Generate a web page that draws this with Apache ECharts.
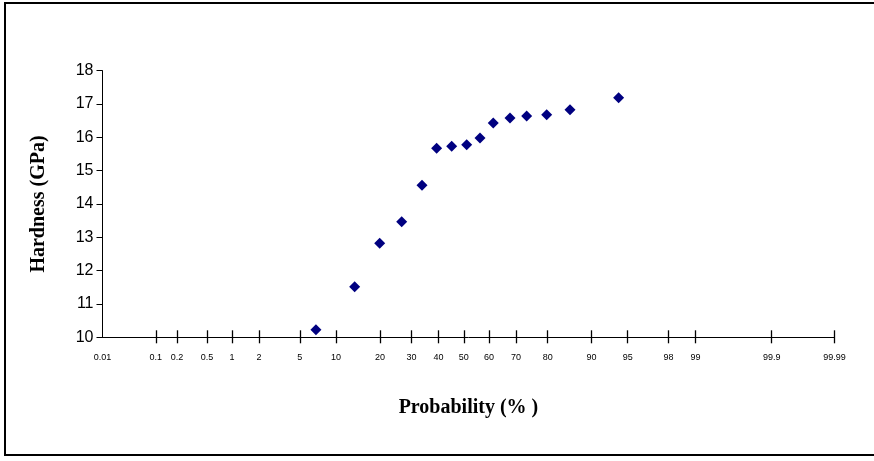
<!DOCTYPE html>
<html>
<head>
<meta charset="utf-8">
<script src="https://cdn.jsdelivr.net/npm/echarts@6/dist/echarts.min.js"></script>
<style>
html,body{margin:0;padding:0;background:#fff;}
#chart{width:874px;height:461px;}
</style>
</head>
<body>
<div id="chart"></div>
<script>
const probability = [6.90, 13.68, 19.94, 26.66, 33.76, 39.28, 45.18, 51.16, 56.48, 61.64, 67.86, 73.60, 79.73, 85.68, 93.99];
// Hardness (GPa)
const hardness = [10.23, 11.52, 12.82, 13.47, 14.56, 15.67, 15.73, 15.78, 15.98, 16.43, 16.58, 16.64, 16.68, 16.83, 17.19];
// Probability-axis tick labels (%)
const tickProbs = [0.1, 0.2, 0.5, 1, 2, 5, 10, 20, 30, 40, 50, 60, 70, 80, 90, 95, 98, 99, 99.9, 99.99];
const firstLabel = '0.01';
const yTicks = [10, 11, 12, 13, 14, 15, 16, 17, 18];

// inverse standard normal CDF (Acklam)
function probit(p) {
  const a = [-3.969683028665376e+01, 2.209460984245205e+02, -2.759285104469687e+02, 1.383577518672690e+02, -3.066479806614716e+01, 2.506628277459239e+00];
  const b = [-5.447609879822406e+01, 1.615858368580409e+02, -1.556989798598866e+02, 6.680131188771972e+01, -1.328068155288572e+01];
  const c = [-7.784894002430293e-03, -3.223964580411365e-01, -2.400758277161838e+00, -2.549732539343734e+00, 4.374664141464968e+00, 2.938163982698783e+00];
  const d = [7.784695709041462e-03, 3.224671290700398e-01, 2.445134137142996e+00, 3.754408661907416e+00];
  const pl = 0.02425, ph = 1 - pl;
  let q, r;
  if (p < pl) {
    q = Math.sqrt(-2 * Math.log(p));
    return (((((c[0]*q+c[1])*q+c[2])*q+c[3])*q+c[4])*q+c[5]) / ((((d[0]*q+d[1])*q+d[2])*q+d[3])*q+1);
  } else if (p <= ph) {
    q = p - 0.5; r = q * q;
    return (((((a[0]*r+a[1])*r+a[2])*r+a[3])*r+a[4])*r+a[5])*q / (((((b[0]*r+b[1])*r+b[2])*r+b[3])*r+b[4])*r+1);
  } else {
    q = Math.sqrt(-2 * Math.log(1 - p));
    return -(((((c[0]*q+c[1])*q+c[2])*q+c[3])*q+c[4])*q+c[5]) / ((((d[0]*q+d[1])*q+d[2])*q+d[3])*q+1);
  }
}
const z = p => probit(p / 100);

const tickZ = tickProbs.map(z);
const xMin = -3.625;
const xMax = z(99.99);
const labelZ = [xMin].concat(tickZ);
const labelText = [firstLabel].concat(tickProbs.map(String));

function labelFor(v) {
  let best = 0, bd = Infinity;
  labelZ.forEach((t, i) => { const dd = Math.abs(t - v); if (dd < bd) { bd = dd; best = i; } });
  return labelText[best];
}

const points = probability.map((p, i) => [z(p), hardness[i]]);

const chart = echarts.init(document.getElementById('chart'), null, {renderer: 'canvas'});
chart.setOption({
  animation: false,
  backgroundColor: '#fff',
  grid: {left: 102.5, right: 39.6, top: 70.7, bottom: 123.7, containLabel: false},
  xAxis: [{
    type: 'value',
    min: xMin, max: xMax,
    position: 'bottom',
    axisLine: {show: true, onZero: false, lineStyle: {color: '#000', width: 1}},
    axisTick: {show: false},
    axisLabel: {show: true, customValues: labelZ, formatter: labelFor, color: '#000', fontSize: 9, fontFamily: 'Liberation Sans', margin: 16, showMinLabel: true, showMaxLabel: true},
    splitLine: {show: false},
    name: 'Probability (% )',
    nameLocation: 'middle',
    nameGap: 61,
    nameTextStyle: {fontFamily: 'Liberation Serif', fontWeight: 'bold', fontSize: 20, color: '#000'}
  }, {
    type: 'value',
    min: xMin, max: xMax,
    position: 'bottom',
    offset: -7,
    axisLine: {show: false, onZero: false},
    axisTick: {show: true, inside: false, length: 13, customValues: tickZ, lineStyle: {color: '#000', width: 1.3}},
    axisLabel: {show: false},
    splitLine: {show: false}
  }],
  yAxis: {
    type: 'value',
    min: yTicks[0], max: yTicks[yTicks.length - 1], interval: 1,
    axisLine: {show: true, onZero: false, lineStyle: {color: '#000', width: 1}},
    axisTick: {show: true, inside: false, length: 6, lineStyle: {color: '#000'}},
    axisLabel: {color: '#000', fontSize: 16, fontFamily: 'Liberation Sans', margin: 9},
    splitLine: {show: false},
    name: 'Hardness (GPa)',
    nameLocation: 'middle',
    nameRotate: 90,
    nameGap: 54,
    nameTextStyle: {fontFamily: 'Liberation Serif', fontWeight: 'bold', fontSize: 20, color: '#000'}
  },
  series: [{
    type: 'scatter',
    xAxisIndex: 0,
    data: points,
    symbol: 'diamond',
    symbolSize: 11,
    itemStyle: {color: '#000080', opacity: 1}
  }],
  graphic: [{
    type: 'rect',
    shape: {x: 5, y: 3, width: 880, height: 452},
    style: {fill: null, stroke: '#000', lineWidth: 2},
    silent: true,
    z: 100
  }]
});
</script>
</body>
</html>
